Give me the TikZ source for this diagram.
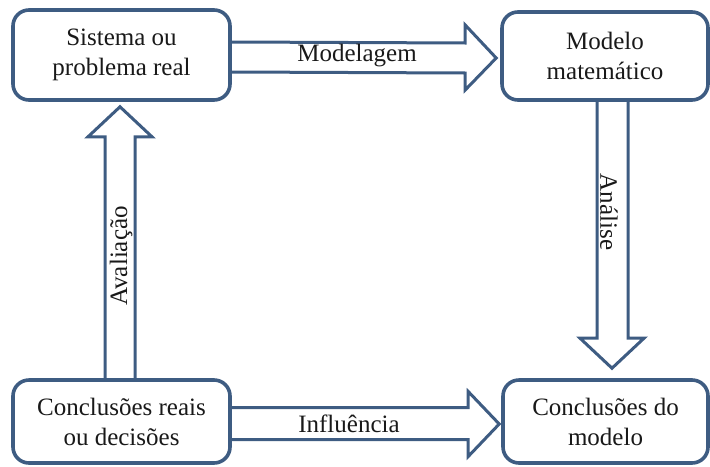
\documentclass[tikz,border=0pt]{standalone}
\usepackage{fontspec}
\setmainfont{Liberation Serif}
\usetikzlibrary{calc}
\definecolor{edge}{RGB}{62,92,130}
\definecolor{ink}{RGB}{25,25,25}
\tikzset{
  box/.style={draw=edge, line width=1.8pt, rounded corners=8pt, fill=white,
    align=center, text=ink, font=\fontsize{12.5}{15}\selectfont, inner sep=0pt},
  barrow/.style={draw=edge, line width=1.5pt, line join=miter},
  lbl/.style={text=ink, font=\fontsize{12.5}{15}\selectfont, inner sep=1pt}
}
\begin{document}
\begin{tikzpicture}[x=0.5pt,y=-0.5pt]
\useasboundingbox (0,0) rectangle (710,466);
\node[box, minimum width=108.5pt, minimum height=45pt] (A) at (121.5,55) {Sistema ou\\problema real};
\node[box, minimum width=103pt, minimum height=44pt] (B) at (605,56) {Modelo\\matemático};
\node[box, minimum width=108.5pt, minimum height=41.5pt] (C) at (121.5,421.5) {Conclusões reais\\ou decisões};
\node[box, minimum width=102.5pt, minimum height=41.5pt] (D) at (605.5,421.5) {Conclusões do\\modelo};

% Modelagem (top)
\draw[barrow] ($(A.east)+(0,-13)$) -- ($(B.west)+(-35,-13)$) -- ($(B.west)+(-35,-31)$)
  -- ($(B.west)+(-4,2)$) -- ($(B.west)+(-35,34)$) -- ($(B.west)+(-35,17)$) -- ($(A.east)+(0,17)$);
\node[lbl] (lm) at (357,56) {Modelagem};

% Influência (bottom)
\draw[barrow] ($(C.east)+(0,-14)$) -- ($(D.west)+(-33,-14)$) -- ($(D.west)+(-33,-30)$)
  -- ($(D.west)+(-2,2.5)$) -- ($(D.west)+(-33,35)$) -- ($(D.west)+(-33,18)$) -- ($(C.east)+(0,18)$);
\node[lbl] (li) at (349,424) {Influência};

% Avaliação (left, upwards)
\draw[barrow] ($(C.north)+(-16.5,0)$) -- ($(A.south)+(-16.5,35)$) -- ($(A.south)+(-33.5,35)$)
  -- ($(A.south)+(-1.5,5)$) -- ($(A.south)+(30.5,35)$) -- ($(A.south)+(13.5,35)$) -- ($(C.north)+(13.5,0)$);
\node[lbl, rotate=90] (la) at (121,256) {Avaliação};

% Análise (right, downwards)
\draw[barrow] ($(B.south)+(-8,0)$) -- ($(D.north)+(-8.5,-40)$) -- ($(D.north)+(-25.5,-40)$)
  -- ($(D.north)+(6.5,-10)$) -- ($(D.north)+(38.5,-40)$) -- ($(D.north)+(22.5,-40)$) -- ($(B.south)+(23,0)$);
\node[lbl, rotate=-90] (ln) at (609,212) {Análise};
\end{tikzpicture}
\end{document}
